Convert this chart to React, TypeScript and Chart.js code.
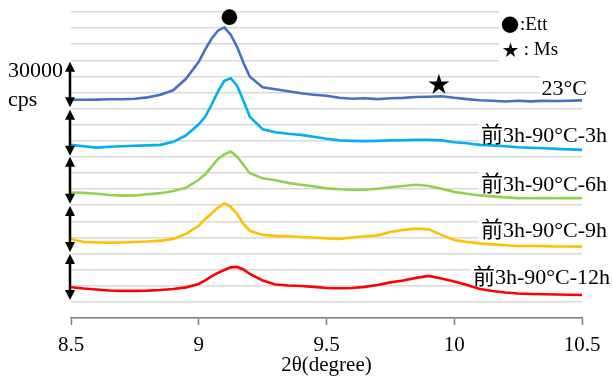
import React, { useEffect, useRef } from 'react';
import { Chart, registerables } from 'chart.js';
Chart.register(...registerables);

const twoTheta = [8.5, 8.55, 8.6, 8.65, 8.7, 8.75, 8.8, 8.85, 8.9, 8.95,
  9.0, 9.025, 9.05, 9.075, 9.1, 9.125, 9.15, 9.175, 9.2,
  9.25, 9.3, 9.35, 9.4, 9.45, 9.5, 9.55, 9.6, 9.65, 9.7, 9.75, 9.8, 9.85, 9.9, 9.95,
  10.0, 10.05, 10.1, 10.15, 10.2, 10.25, 10.3, 10.35, 10.4, 10.45, 10.5];

const s23C = [135500, 135500, 135600, 135800, 135800, 136100, 137000, 138600, 141400, 148500,
  159100, 166600, 173400, 178400, 180500, 175900, 168400, 158500, 149800,
  143300, 142000, 140800, 139500, 138600, 138000, 136700, 136100, 136400, 135900, 136400, 136700, 137200, 137400, 137700,
  136700, 135900, 135200, 134900, 134400, 134900, 134500, 134900, 134700, 134900, 135100];

const s3h = [107500, 106600, 105800, 106300, 106600, 106900, 107200, 107500, 109400, 113400,
  120300, 124900, 132400, 140500, 147300, 148900, 144200, 134900, 124900,
  117200, 115300, 114400, 113700, 112500, 111300, 110300, 110000, 109800, 110000, 110300, 110400, 110600, 110600, 110300,
  109100, 108500, 107500, 107200, 106600, 106000, 105700, 105400, 105000, 104700, 104400];

const s6h = [77900, 77700, 77100, 76400, 76000, 76100, 76800, 77500, 78900, 80800,
  85800, 89200, 93800, 98800, 101600, 103400, 100100, 95100, 89900,
  86700, 85500, 83900, 82700, 81700, 80500, 79900, 79600, 79600, 80200, 81200, 82000, 82700, 82000, 80200,
  78300, 77100, 76100, 75500, 74900, 74400, 74300, 74400, 74300, 74400, 74400];

const s9h = [49100, 47200, 46900, 46800, 46900, 47200, 47500, 48000, 49100, 52200,
  57200, 61500, 64900, 68400, 71200, 69000, 64600, 58400, 54100,
  51600, 51000, 50700, 50300, 50000, 49400, 49100, 50000, 50700, 51300, 53400, 54700, 55500, 55000, 51600,
  48500, 47200, 46300, 45700, 45200, 44700, 44700, 44600, 44400, 44400, 44300];

const s12h = [19100, 18300, 17700, 17100, 16800, 16800, 17000, 17400, 18000, 19000,
  21100, 23300, 25800, 28000, 29800, 31400, 31700, 30100, 27300,
  23300, 20800, 20200, 19900, 19300, 18600, 18500, 18600, 19300, 20500, 22100, 23300, 24900, 26100, 24500,
  22700, 20500, 18000, 16800, 15800, 15200, 14900, 14700, 14600, 14400, 14300];

const seriesNames = ['23°C', '前3h-90°C-3h', '前3h-90°C-6h', '前3h-90°C-9h', '前3h-90°C-12h'];
const seriesValues = [s23C, s3h, s6h, s9h, s12h];
const seriesColors = ['#4472C4', '#00B0F0', '#92D050', '#FFC000', '#FF0000'];
const labelValues = [142900, 113700, 83300, 54700, 25500];
const scaleBarLow = [130900, 100700, 70900, 41000, 11200];
const scaleBarHigh = [159100, 129300, 100100, 69600, 39800];
const ettMark = { x: 9.12, y: 186800 };
const msMark = { x: 9.94, y: 144800 };
const xTitle = '2θ(degree)';

const SERIF = '"Liberation Serif", "Noto Sans CJK JP", serif';

function drawStar(ctx: CanvasRenderingContext2D, cx: number, cy: number, R: number) {
  const r = R * 0.382;
  ctx.beginPath();
  for (let i = 0; i < 10; i++) {
    const rad = i % 2 === 0 ? R : r;
    const a = -Math.PI / 2 + (i * Math.PI) / 5;
    const px = cx + rad * Math.cos(a);
    const py = cy + rad * Math.sin(a);
    if (i === 0) ctx.moveTo(px, py); else ctx.lineTo(px, py);
  }
  ctx.closePath();
  ctx.fill();
}

function drawArrow(ctx: CanvasRenderingContext2D, x: number, y1: number, y2: number) {
  const head = 10, hw = 5;
  ctx.strokeStyle = '#000';
  ctx.fillStyle = '#000';
  ctx.lineWidth = 2.5;
  ctx.beginPath();
  ctx.moveTo(x, y1 + head - 1);
  ctx.lineTo(x, y2 - head + 1);
  ctx.stroke();
  ctx.beginPath();
  ctx.moveTo(x, y1); ctx.lineTo(x - hw, y1 + head); ctx.lineTo(x + hw, y1 + head); ctx.closePath(); ctx.fill();
  ctx.beginPath();
  ctx.moveTo(x, y2); ctx.lineTo(x - hw, y2 - head); ctx.lineTo(x + hw, y2 - head); ctx.closePath(); ctx.fill();
}

const labelDx = [5, 25, 25, 25, 28];

const overlay = {
  id: 'overlay',
  beforeDatasetsDraw(chart: any) {
    const { ctx, chartArea, scales } = chart;
    ctx.save();
    ctx.fillStyle = '#ffffff';
    ctx.fillRect(chartArea.right - 83, chartArea.top - 4, 95, 54);
    ctx.font = '22px ' + SERIF;
    seriesNames.forEach((t, i) => {
      const w = ctx.measureText(t).width;
      const right = chartArea.right + labelDx[i];
      const y = scales.y.getPixelForValue(labelValues[i]);
      ctx.fillRect(right - w - 2, y - 12, w + 4, 23);
    });
    ctx.restore();
  },
  afterDatasetsDraw(chart: any) {
    const { ctx, chartArea, scales } = chart;
    const xs = scales.x, ys = scales.y;
    ctx.save();
    ctx.fillStyle = '#000';
    ctx.font = '22px ' + SERIF;
    ctx.textAlign = 'right';
    ctx.textBaseline = 'middle';
    seriesNames.forEach((t, i) => {
      ctx.fillText(t, chartArea.right + labelDx[i], ys.getPixelForValue(labelValues[i]) + 1);
    });
    // peak markers
    ctx.beginPath();
    ctx.arc(xs.getPixelForValue(ettMark.x), ys.getPixelForValue(ettMark.y), 7.8, 0, Math.PI * 2);
    ctx.fill();
    drawStar(ctx, xs.getPixelForValue(msMark.x), ys.getPixelForValue(msMark.y), 11);
    // legend
    const lx = chartArea.right - 72;
    ctx.beginPath();
    ctx.arc(lx, chartArea.top + 12.7, 8.2, 0, Math.PI * 2);
    ctx.fill();
    drawStar(ctx, lx + 0.5, chartArea.top + 38.5, 8);
    ctx.font = '19px ' + SERIF;
    ctx.textAlign = 'left';
    ctx.fillText(':Ett', lx + 10, chartArea.top + 13);
    ctx.fillText(' : Ms', lx + 9, chartArea.top + 38);
    // scale bars
    const ax = chartArea.left - 1;
    for (let i = 0; i < scaleBarLow.length; i++) {
      drawArrow(ctx, ax, ys.getPixelForValue(scaleBarHigh[i]), ys.getPixelForValue(scaleBarLow[i]));
    }
    ctx.fillStyle = '#000';
    ctx.font = '22px ' + SERIF;
    ctx.textAlign = 'left';
    ctx.textBaseline = 'middle';
    ctx.fillText('30000', 8, 71);
    ctx.fillText('cps', 8, 100);
    // x axis title
    ctx.font = '21px ' + SERIF;
    ctx.textAlign = 'center';
    ctx.fillText(xTitle, (chartArea.left + chartArea.right) / 2, chartArea.bottom + 48);
    ctx.restore();
  },
};

export default function App() {
  const ref = useRef<HTMLCanvasElement | null>(null);
  useEffect(() => {
    if (!ref.current) return;
    const chart = new Chart(ref.current, {
      type: 'line',
      data: {
        datasets: seriesNames.map((name, i) => ({
          label: name,
          data: twoTheta.map((x, j) => ({ x, y: seriesValues[i][j] })),
          borderColor: seriesColors[i],
          backgroundColor: seriesColors[i],
          borderWidth: 2.6,
          pointRadius: 0,
          tension: 0,
          fill: false,
        })),
      },
      options: {
        responsive: false,
        animation: false,
        devicePixelRatio: 1,
        layout: { padding: { left: 71, right: 31, top: 12, bottom: 11 } },
        plugins: { legend: { display: false }, tooltip: { enabled: false } },
        scales: {
          x: {
            type: 'linear',
            min: 8.5,
            max: 10.5,
            ticks: {
              stepSize: 0.5,
              color: '#000',
              padding: 5,
              maxRotation: 0,
              font: { family: SERIF, size: 21, lineHeight: 1.43 },
              callback: (v: any) => String(Number(v)),
            },
            grid: { drawOnChartArea: false, drawTicks: true, tickLength: 7, tickColor: '#7f7f7f', tickWidth: 1.5 },
            border: { display: true, color: '#7f7f7f', width: 1.5 },
          },
          y: {
            min: 0,
            max: 190000,
            ticks: { display: false, stepSize: 10000 },
            grid: { color: '#d9d9d9', lineWidth: 1.5, drawTicks: false },
            border: { display: false },
          },
        },
      },
      plugins: [overlay],
    });
    return () => chart.destroy();
  }, []);
  return (
    <div style={{ position: 'fixed', left: 0, top: 0, width: 613, height: 376, background: '#fff' }}>
      <canvas ref={ref} width={613} height={376} />
    </div>
  );
}
